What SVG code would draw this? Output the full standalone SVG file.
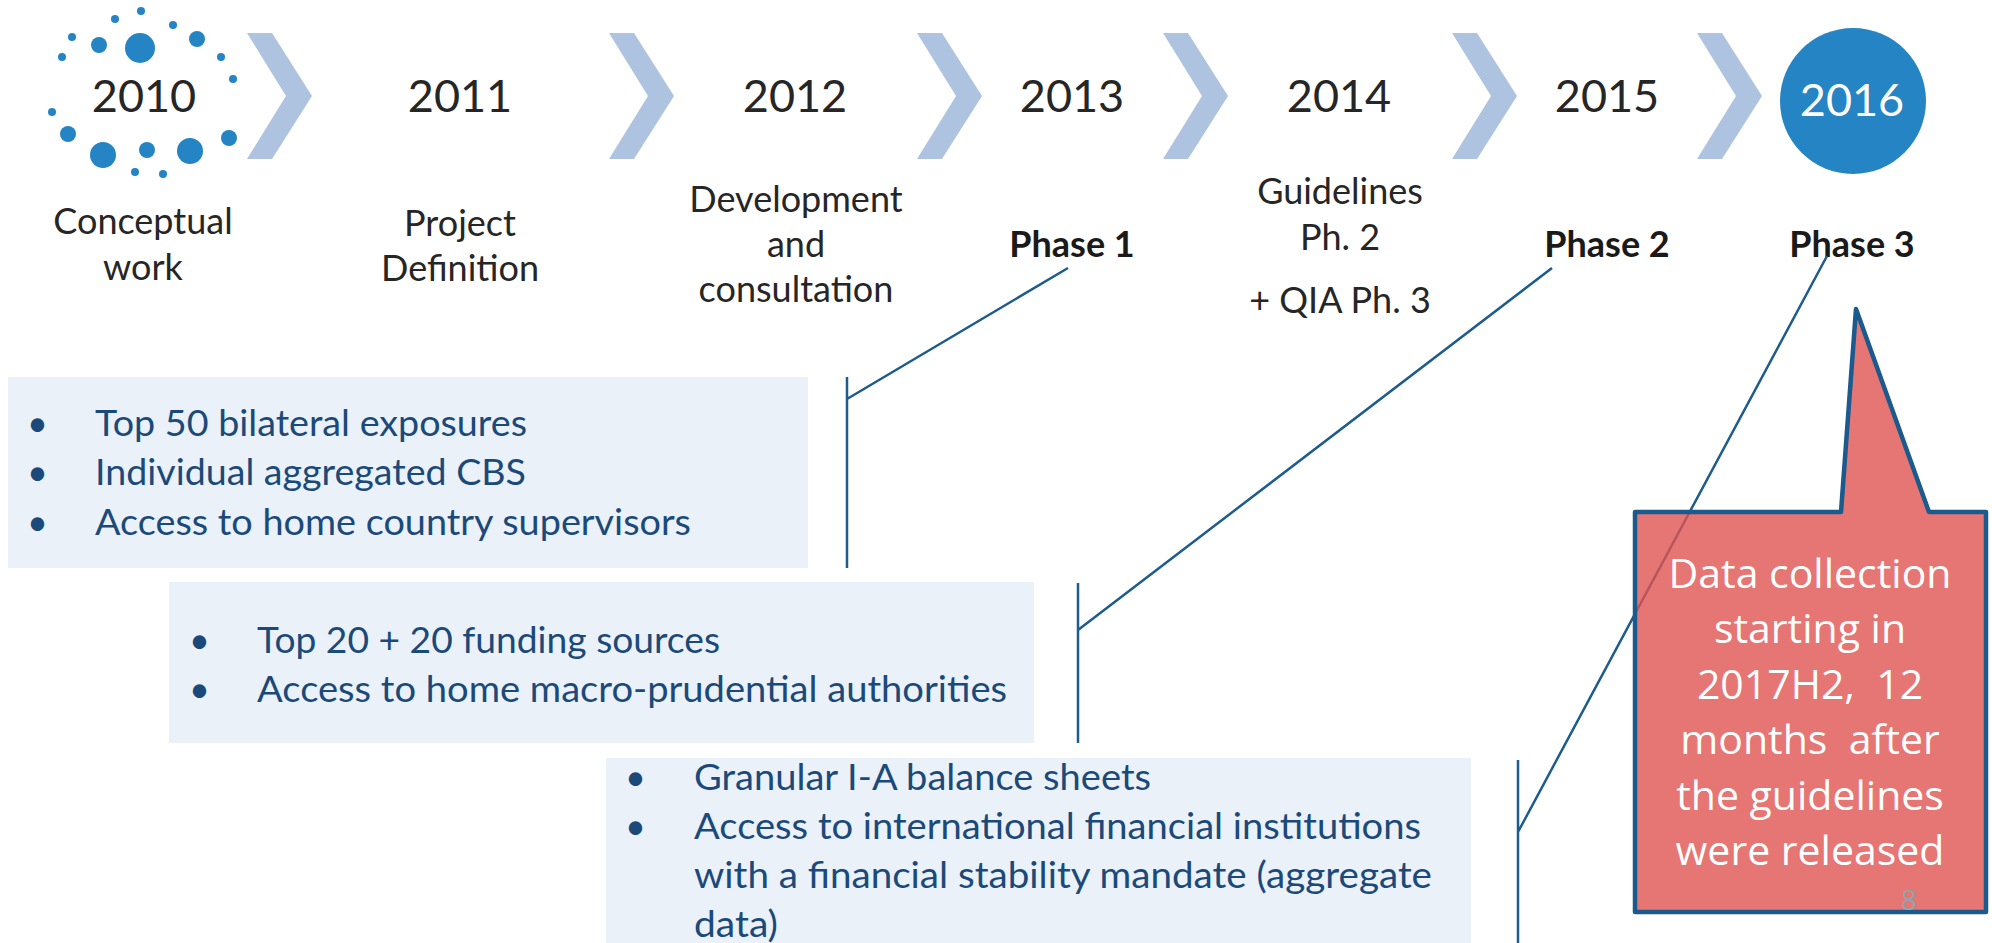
<svg xmlns="http://www.w3.org/2000/svg" width="1992" height="943" viewBox="0 0 1992 943">
<style>
.chev{fill:#adc3df}
.dot{fill:#2584c3}
.year{font-family:Lato,"Liberation Sans",sans-serif;font-size:45px;fill:#262626;text-anchor:middle}
.lbl{font-family:Lato,"Liberation Sans",sans-serif;font-size:36px;fill:#262626;text-anchor:middle}
.ph{font-family:Lato,"Liberation Sans",sans-serif;font-size:36px;font-weight:bold;fill:#1a1a1a;text-anchor:middle}
.box{fill:#ebf1f8}
.bt{font-family:Lato,"Liberation Sans",sans-serif;font-size:36px;fill:#1b4a7a}
.con{stroke:#1d5c8c;stroke-width:2.5;fill:none}
.co{font-family:"Open Sans","Liberation Sans",sans-serif;font-size:41px;fill:#ffffff;text-anchor:middle;white-space:pre}
</style>
<defs>
<path id="chev" d="M0,0 L25,0 L65,63 L25,126 L0,126 L39,63 Z"/>
</defs>
<rect width="1992" height="943" fill="#ffffff"/>

<g id="chevrons">
<use href="#chev" class="chev" x="247" y="33"/>
<use href="#chev" class="chev" x="609" y="33"/>
<use href="#chev" class="chev" x="917" y="33"/>
<use href="#chev" class="chev" x="1163" y="33"/>
<use href="#chev" class="chev" x="1452" y="33"/>
<use href="#chev" class="chev" x="1697" y="33"/>
</g>

<g id="y2010">
<circle class="dot" cx="141" cy="11" r="4"/>
<circle class="dot" cx="115" cy="19" r="4"/>
<circle class="dot" cx="173" cy="25" r="4"/>
<circle class="dot" cx="72" cy="37" r="4"/>
<circle class="dot" cx="99" cy="45" r="8"/>
<circle class="dot" cx="140" cy="48" r="15"/>
<circle class="dot" cx="197" cy="39" r="8"/>
<circle class="dot" cx="62" cy="57" r="4"/>
<circle class="dot" cx="221" cy="57" r="4"/>
<circle class="dot" cx="233" cy="79" r="4"/>
<circle class="dot" cx="52" cy="112" r="4"/>
<circle class="dot" cx="68" cy="134" r="8"/>
<circle class="dot" cx="103" cy="155" r="13"/>
<circle class="dot" cx="147" cy="150" r="8"/>
<circle class="dot" cx="190" cy="151" r="13"/>
<circle class="dot" cx="229" cy="138" r="8"/>
<circle class="dot" cx="135" cy="172" r="4"/>
<circle class="dot" cx="163" cy="174" r="4"/>
<text class="year" x="144" y="112">2010</text>
<text class="lbl" x="143" y="234">Conceptual</text>
<text class="lbl" x="143" y="280">work</text>
</g>

<g id="y2011">
<text class="year" x="460" y="112">2011</text>
<text class="lbl" x="460" y="236">Project</text>
<text class="lbl" x="460" y="281">Definition</text>
</g>

<g id="y2012">
<text class="year" x="795" y="112">2012</text>
<text class="lbl" x="796" y="212">Development</text>
<text class="lbl" x="796" y="257">and</text>
<text class="lbl" x="796" y="302">consultation</text>
</g>

<g id="y2013">
<text class="year" x="1072" y="112">2013</text>
<text class="ph" x="1072" y="257">Phase 1</text>
</g>

<g id="y2014">
<text class="year" x="1339" y="112">2014</text>
<text class="lbl" x="1340" y="204">Guidelines</text>
<text class="lbl" x="1340" y="250">Ph. 2</text>
<text class="lbl" x="1340" y="313">+ QIA Ph. 3</text>
</g>

<g id="y2015">
<text class="year" x="1607" y="112">2015</text>
<text class="ph" x="1607" y="257">Phase 2</text>
</g>

<g id="y2016">
<circle cx="1853" cy="101" r="73" fill="#2584c3"/>
<text class="year" x="1852" y="116" style="fill:#ffffff">2016</text>
<text class="ph" x="1852" y="257">Phase 3</text>
</g>

<g id="box1">
<rect class="box" x="8" y="377" width="800" height="191"/>
<text class="bt" x="27" y="436">•</text>
<text class="bt" x="95" y="436" textLength="432" lengthAdjust="spacingAndGlyphs">Top 50 bilateral exposures</text>
<text class="bt" x="27" y="485">•</text>
<text class="bt" x="95" y="485" textLength="431" lengthAdjust="spacingAndGlyphs">Individual aggregated CBS</text>
<text class="bt" x="27" y="535">•</text>
<text class="bt" x="95" y="535" textLength="596" lengthAdjust="spacingAndGlyphs">Access to home country supervisors</text>
</g>

<g id="box2">
<rect class="box" x="169" y="582" width="865" height="161"/>
<text class="bt" x="189" y="653">•</text>
<text class="bt" x="257" y="653" textLength="463" lengthAdjust="spacingAndGlyphs">Top 20 + 20 funding sources</text>
<text class="bt" x="189" y="702">•</text>
<text class="bt" x="257" y="702" textLength="750" lengthAdjust="spacingAndGlyphs">Access to home macro-prudential authorities</text>
</g>

<g id="box3">
<rect class="box" x="606" y="758" width="865" height="190"/>
<text class="bt" x="625" y="790">•</text>
<text class="bt" x="694" y="790" textLength="457" lengthAdjust="spacingAndGlyphs">Granular I-A balance sheets</text>
<text class="bt" x="625" y="839">•</text>
<text class="bt" x="694" y="839" textLength="727" lengthAdjust="spacingAndGlyphs">Access to international financial institutions</text>
<text class="bt" x="694" y="888" textLength="738" lengthAdjust="spacingAndGlyphs">with a financial stability mandate (aggregate</text>
<text class="bt" x="694" y="937" textLength="84" lengthAdjust="spacingAndGlyphs">data)</text>
</g>

<g id="connectors">
<path class="con" d="M847,377 L847,568 M847,399 L1068,268"/>
<path class="con" d="M1078,583 L1078,743 M1078,630 L1552,268"/>
<path class="con" d="M1518,760 L1518,943 M1518,832 L1827,256"/>
</g>

<g id="callout">
<path d="M1635,512 L1841,512 L1856,309 L1929,512 L1986,512 L1986,912 L1635,912 Z" fill="#e05450" fill-opacity="0.8" stroke="#1a5a8c" stroke-width="4.5" stroke-linejoin="round"/>
<text class="co" x="1810" y="588">Data collection</text>
<text class="co" x="1810" y="643">starting in</text>
<text class="co" x="1810" y="699">2017H2,  12</text>
<text class="co" x="1810" y="754">months  after</text>
<text class="co" x="1810" y="810">the guidelines</text>
<text class="co" x="1810" y="865">were released</text>
<text x="1909" y="910" font-family="'Open Sans', 'Liberation Sans', sans-serif" font-size="28" fill="#93a3aa" text-anchor="middle">8</text>
</g>
</svg>
